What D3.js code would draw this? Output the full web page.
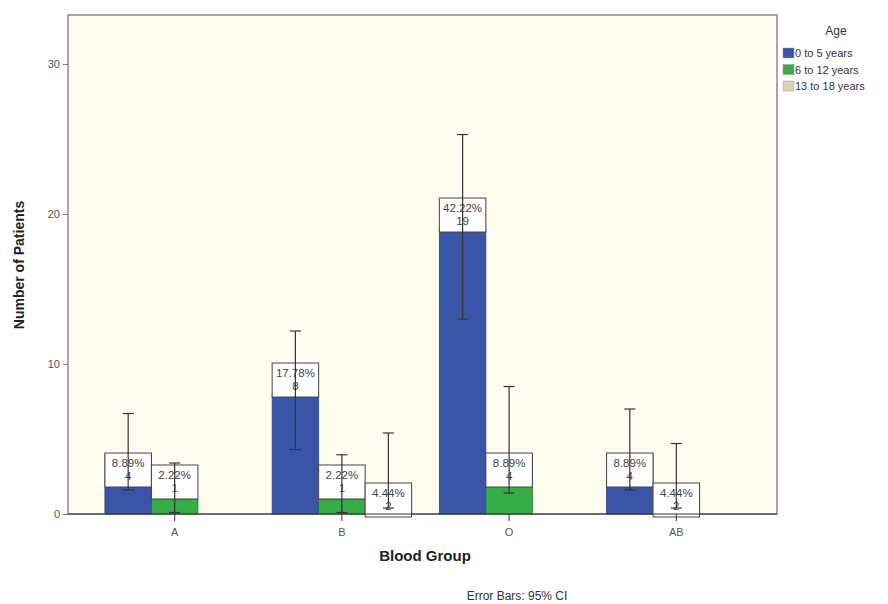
<!DOCTYPE html>
<html>
<head>
<meta charset="utf-8">
<script src="https://cdn.jsdelivr.net/npm/d3@7"></script>
<style>
  html, body { margin: 0; padding: 0; background: #ffffff; }
  svg { display: block; font-family: "Liberation Sans", Arial, sans-serif; }
</style>
</head>
<body>
<svg id="chart" width="888" height="604"></svg>
<script>
// Blood group counts by age band, with 95% confidence limits
const groups = ["A", "B", "O", "AB"];
const ageLevels = ["0 to 5 years", "6 to 12 years", "13 to 18 years"];
const ageColors = ["#3a54a8", "#36ad47", "#f2efd6"];
const legendColors = ["#3a54a8", "#36ad47", "#d9d5b3"];

const countsAge0to5   = [4, 8, 19, 4];
const countsAge6to12  = [1, 1, 4, 0];
const countsAge13to18 = [0, 2, 0, 2];

const ciLowAge0to5    = [1.6, 4.3, 13.0, 1.6];
const ciHighAge0to5   = [6.7, 12.2, 25.3, 7.0];
const ciLowAge6to12   = [0.1, 0.1, 1.4, 0];
const ciHighAge6to12  = [3.4, 3.95, 8.5, 0];
const ciLowAge13to18  = [0, 0.4, 0, 0.4];
const ciHighAge13to18 = [0, 5.4, 0, 4.7];

const yTicks = [0, 10, 20, 30];
const yMax = 33.27;

const seriesCounts = [countsAge0to5, countsAge6to12, countsAge13to18];
const seriesLow = [ciLowAge0to5, ciLowAge6to12, ciLowAge13to18];
const seriesHigh = [ciHighAge0to5, ciHighAge6to12, ciHighAge13to18];
const total = d3.sum(seriesCounts.flat());

// Bars fill slots left to right inside each group; empty categories are skipped
const bars = [];
groups.forEach((g, gi) => {
  let slot = 0;
  seriesCounts.forEach((counts, si) => {
    if (counts[gi] > 0) {
      bars.push({ group: g, series: si, slot: slot++, value: counts[gi],
                  low: seriesLow[si][gi], high: seriesHigh[si][gi] });
    }
  });
});

const svg = d3.select("#chart");
const plotLeft = 68, plotRight = 777, plotTop = 15, plotBottom = 514;

const x = d3.scaleBand().domain(groups).range([plotLeft + 3, plotRight + 3]).paddingOuter(0.12).paddingInner(0);
const slotW = 46.5;
const slot = d3.scaleBand().domain([0, 1, 2]).range([-1.5 * slotW, 1.5 * slotW]);
const y = d3.scaleLinear().domain([0, yMax]).range([plotBottom, plotTop]);

// plot background and frame
svg.append("rect").attr("x", plotLeft).attr("y", plotTop).attr("width", plotRight - plotLeft).attr("height", plotBottom - plotTop)
  .attr("fill", "#fffdf0").attr("stroke", "#8a8a8a").attr("stroke-width", 1.5);

// bars
const barX = d => x(d.group) + x.bandwidth() / 2 + slot(d.slot);
svg.append("g").selectAll("rect").data(bars).join("rect")
  .attr("x", barX)
  .attr("y", d => y(d.value))
  .attr("width", slotW)
  .attr("height", d => y(0) - y(d.value))
  .attr("fill", d => ageColors[d.series])
  .attr("stroke", d => d.series === 0 ? "#2b3f88" : d.series === 1 ? "#1f6f2c" : "#888")
  .attr("stroke-width", 0.8);

// value label boxes: sit on top of tall and very short bars, inside the top of mid-height bars
const boxH = 34;
const labels = svg.append("g");
bars.forEach(d => {
  const h = y(0) - y(d.value);
  const bx = barX(d);
  let by;
  if (h >= 25 && h < 100) by = y(d.value) - 1;
  else if (h >= 100) by = y(d.value) - boxH + 3;
  else by = y(d.value) - boxH;
  labels.append("rect").attr("x", bx).attr("y", by).attr("width", slotW).attr("height", boxH)
    .attr("fill", "#ffffff").attr("stroke", "#444").attr("stroke-width", 1);
  labels.append("text").attr("x", bx + slotW / 2).attr("y", by + 14)
    .attr("text-anchor", "middle").attr("font-size", 11.5).attr("fill", "#444")
    .text((d.value / total * 100).toFixed(2) + "%");
  labels.append("text").attr("x", bx + slotW / 2).attr("y", by + 27)
    .attr("text-anchor", "middle").attr("font-size", 11.5).attr("fill", "#444")
    .text(d.value);
});

// error bars
const eb = svg.append("g").attr("stroke", "#333").attr("stroke-width", 1.2);
bars.forEach(d => {
  const cx = barX(d) + slotW / 2;
  eb.append("line").attr("x1", cx).attr("x2", cx).attr("y1", y(d.high)).attr("y2", y(d.low));
  eb.append("line").attr("x1", cx - 5.5).attr("x2", cx + 5.5).attr("y1", y(d.high)).attr("y2", y(d.high));
  eb.append("line").attr("x1", cx - 5.5).attr("x2", cx + 5.5).attr("y1", y(d.low)).attr("y2", y(d.low));
});

// axes
const yAxis = svg.append("g").attr("transform", `translate(${plotLeft},0)`)
  .call(d3.axisLeft(y).tickValues(yTicks).tickSize(5).tickSizeOuter(0));
yAxis.select(".domain").remove();
yAxis.selectAll("line").attr("stroke", "#777");
yAxis.selectAll("text").attr("font-size", 11).attr("fill", "#555").attr("font-family", "Liberation Sans, Arial, sans-serif");

const xAxis = svg.append("g").attr("transform", `translate(0,${plotBottom})`)
  .call(d3.axisBottom(x).tickSize(7).tickSizeOuter(0));
xAxis.select(".domain").remove();
xAxis.selectAll(".tick").attr("transform", g => `translate(${x(g) + x.bandwidth() / 2 + slot(1) + slotW / 2},0)`);
xAxis.selectAll("line").attr("stroke", "#333");
xAxis.selectAll("text").attr("font-size", 11).attr("fill", "#555").attr("dy", "1.1em").attr("font-family", "Liberation Sans, Arial, sans-serif");

svg.append("line").attr("x1", plotLeft).attr("x2", plotRight).attr("y1", plotBottom).attr("y2", plotBottom)
  .attr("stroke", "#333").attr("stroke-width", 1.2);

// axis titles
svg.append("text").attr("transform", "translate(24,265) rotate(-90)")
  .attr("text-anchor", "middle").attr("font-size", 14).attr("font-weight", "bold").attr("fill", "#222")
  .text("Number of Patients");
svg.append("text").attr("x", 425).attr("y", 561).attr("text-anchor", "middle")
  .attr("font-size", 15).attr("font-weight", "bold").attr("fill", "#222").text("Blood Group");
svg.append("text").attr("x", 517).attr("y", 600).attr("text-anchor", "middle")
  .attr("font-size", 12).attr("fill", "#333").text("Error Bars: 95% CI");

// legend
const legend = svg.append("g");
legend.append("text").attr("x", 836).attr("y", 35).attr("text-anchor", "middle")
  .attr("font-size", 12).attr("fill", "#333").text("Age");
ageLevels.forEach((lab, i) => {
  legend.append("rect").attr("x", 783).attr("y", 48 + i * 16.5).attr("width", 11).attr("height", 10)
    .attr("fill", legendColors[i]).attr("stroke", "#999").attr("stroke-width", 0.5);
  legend.append("text").attr("x", 795).attr("y", 57 + i * 16.5)
    .attr("font-size", 11).attr("fill", "#333").text(lab);
});
</script>
</body>
</html>
